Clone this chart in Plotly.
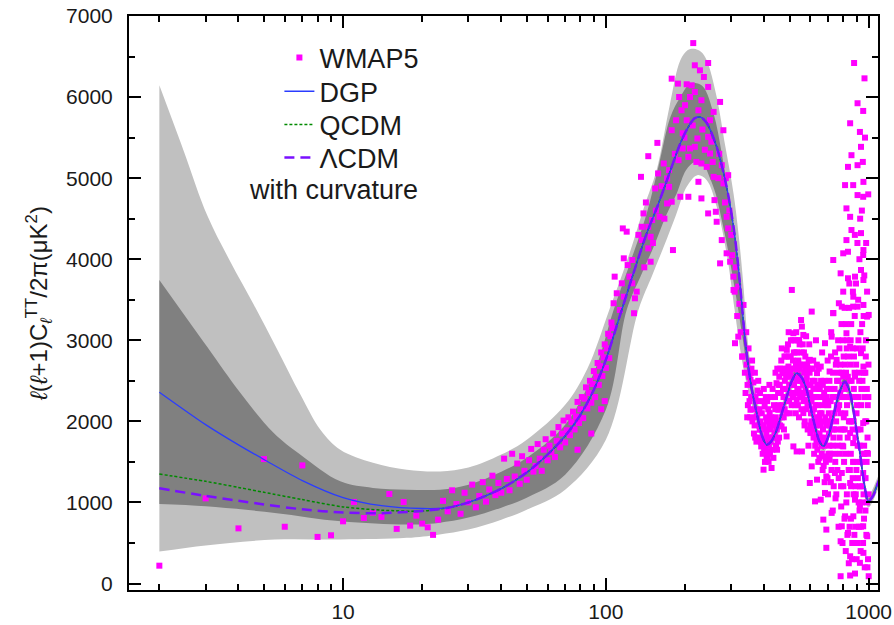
import math
import plotly.graph_objects as go

# ---------------- model curves ----------------
low_ell = [2, 3, 4, 5, 7, 10, 14, 20]
dgp_low = [2360, 1960, 1710, 1530, 1270, 1060, 960, 925]
qcdm_low = [1350, 1260, 1185, 1125, 1035, 945, 905, 893]
lcdm_low = [1175, 1080, 1020, 975, 915, 875, 868, 895]

common_ell = [25, 30, 40, 50, 60, 70, 80, 90, 100, 113, 128, 143, 157, 171, 192, 205, 218, 230,
              242, 264, 288, 306, 318, 328, 340, 358, 375, 392, 409, 425, 447, 467, 488, 510,
              532, 556, 581, 603, 625, 648, 672, 700, 733, 772, 812, 845, 874, 900, 926, 960,
              997, 1040, 1072, 1100]
common_dl = [935, 1000, 1170, 1370, 1590, 1820, 2080, 2390, 2760, 3300, 3850, 4319, 4650, 4980,
             5430, 5620, 5740, 5750, 5680, 5386, 4893, 4400, 3950, 3500, 2950, 2420, 2100, 1830,
             1712, 1750, 1897, 2100, 2307, 2500, 2595, 2540, 2389, 2150, 1937, 1760, 1691, 1800,
             2060, 2350, 2491, 2380, 2143, 1880, 1610, 1250, 1013, 1080, 1198, 1290]

# ---------------- confidence bands ----------------
light_hi_ell = [2, 2.47, 3.05, 3.73, 4.56, 5.58, 6.89, 8.2, 9.76, 13, 17.5, 23.4, 30, 40, 50, 70,
                85, 103, 123, 140, 156, 175, 192, 205, 216, 230, 242, 264, 285, 306, 320, 334,
                344, 358, 375, 409, 447, 488, 532, 581, 625, 672, 733, 812, 874, 926, 997, 1072,
                1100]
light_hi = [6145, 5345, 4532, 3966, 3448, 2906, 2328, 1897, 1650, 1490, 1404, 1383, 1430, 1590,
            1773, 2204, 2650, 3374, 4072, 4650, 5099, 5900, 6453, 6580, 6597, 6560, 6453, 6001,
            5386, 4812, 4300, 3662, 3100, 2620, 2300, 1800, 2000, 2420, 2750, 2480, 2020, 1770,
            2150, 2620, 2230, 1690, 1090, 1280, 1370]

dark_hi_ell = [2, 3.04, 4.07, 5.45, 6.89, 9.76, 13, 17.5, 23.4, 30, 40, 50, 70, 90, 107, 125, 143,
               160, 176, 192, 209, 222, 235, 257, 276, 297, 314, 330, 344, 358, 375, 409, 447,
               488, 532, 581, 625, 672, 733, 812, 874, 926, 997, 1072, 1100]
dark_hi = [3744, 2919, 2349, 1856, 1589, 1260, 1179, 1158, 1158, 1219, 1379, 1552, 1958, 2600,
           3374, 4000, 4565, 5200, 5755, 6000, 6166, 6170, 6125, 5796, 5304, 4647, 4073, 3400,
           2950, 2500, 2210, 1760, 1950, 2360, 2650, 2440, 1990, 1735, 2110, 2550, 2190, 1650,
           1050, 1240, 1330]

dark_lo_ell = [2, 3, 5.5, 9.8, 17.5, 23, 30, 40, 50, 70, 100, 120, 136, 152, 170, 186, 202, 218,
               234, 249, 262, 276, 290, 305, 319, 334, 344, 358, 375, 409, 447, 488, 532, 581,
               625, 672, 733, 812, 874, 926, 997, 1072, 1100]
dark_lo = [980, 952, 871, 767, 727, 747, 813, 936, 1059, 1342, 2143, 3374, 3800, 4154, 4550,
           4812, 5100, 5200, 5170, 5000, 4800, 4483, 4150, 3750, 3374, 2950, 2650, 2330, 2040,
           1665, 1845, 2250, 2540, 2340, 1885, 1650, 2010, 2430, 2100, 1570, 980, 1160, 1250]

light_lo_ell = [2, 3, 5.5, 9.8, 17.5, 23, 30, 40, 50, 70, 100, 133, 150, 166, 185, 203, 223, 242,
                264, 288, 309, 324, 334, 344, 358, 375, 409, 447, 488, 532, 581, 625, 672, 733,
                812, 874, 926, 997, 1072, 1100]
light_lo = [394, 470, 542, 542, 563, 603, 665, 788, 911, 1158, 1773, 3374, 3800, 4154, 4550,
            4893, 5037, 4975, 4647, 4073, 3374, 2900, 2650, 2450, 2220, 1960, 1620, 1800, 2200,
            2480, 2300, 1850, 1610, 1970, 2370, 2060, 1530, 940, 1120, 1210]

# ---------------- WMAP5 data points (ell, D_ell) ----------------
wmap_low = [(2, 220), (3, 1050), (4, 680), (5, 1535), (6, 700), (7, 1457), (8, 575), (9, 595),
            (10, 767), (11, 1006), (12, 809), (13, 874), (14, 821), (15, 1104), (16, 674),
            (17, 1006), (18, 714), (19, 837), (20, 739), (21, 693), (22, 600), (23, 788)]

wmap_rise = [(24, 1020), (25, 890), (26, 1150), (27, 980), (28, 860), (29, 1120), (30, 1000),
             (31, 1220), (32, 940), (33, 1080), (34, 1250), (35, 1010), (36, 1160), (37, 1330),
             (38, 1090), (39, 1240), (40, 1120), (41, 1540), (42, 1290), (43, 1150), (44, 1600),
             (45, 1320), (46, 1480), (47, 1230), (48, 1570), (49, 1390), (50, 1280), (51, 1520),
             (52, 1660), (53, 1380), (54, 1450), (55, 1720), (56, 1540), (57, 1390), (58, 1650),
             (59, 1780), (60, 1520), (61, 1700), (62, 1620), (63, 1850), (64, 1560), (65, 1760),
             (66, 1930), (67, 1680), (68, 1850), (69, 2010), (70, 1740), (71, 1890), (72, 2050),
             (73, 1830), (74, 1990), (75, 2120), (76, 1900), (77, 2060), (78, 2240), (78, 1650),
             (79, 1980), (80, 2150), (81, 2300), (82, 2040), (83, 2280), (84, 2420), (85, 2160),
             (86, 2350), (87, 2500), (88, 2230), (88, 1850), (89, 2460), (90, 2620), (91, 2300),
             (92, 2550), (93, 2720), (94, 2450), (95, 2680), (96, 2850), (96, 2150), (97, 2560),
             (98, 2790), (99, 2950), (99, 2250), (100, 2660), (101, 2900), (102, 3080),
             (103, 2780), (104, 3050), (105, 3220), (106, 3150)]

wmap_peak = [(107, 3457), (108, 3785), (110, 3580), (113, 3374), (115, 3703), (116, 4380),
             (117, 3538), (117, 4011), (120, 4340), (121, 3928), (123, 3785), (126, 3990),
             (126, 3703), (128, 3334), (129, 3518), (131, 3600), (133, 4300), (136, 5016),
             (137, 4400), (137, 4236), (139, 4565), (140, 3900), (142, 4700), (145, 5271),
             (145, 4400), (145, 4134), (148, 4277), (148, 3969), (150, 4483), (151, 4200),
             (154, 4873), (155, 4600), (157, 5435), (158, 5058), (160, 4523), (163, 4900),
             (166, 5181), (167, 4500), (171, 4996), (171, 4688), (174, 5099), (174, 4893),
             (178, 5591), (178, 6227), (178, 4709), (180, 4113), (183, 5300), (185, 5714),
             (188, 6166), (189, 5222), (190, 6001), (192, 4770), (194, 5837), (196, 5554),
             (196, 5366), (199, 5500), (200, 5900), (203, 6158), (203, 5714), (206, 5262),
             (206, 4770), (209, 6001), (209, 5366), (212, 6145), (214, 5650), (215, 6666),
             (218, 6392), (218, 6063), (218, 5386), (221, 5200), (223, 5489), (225, 5837),
             (225, 4955), (228, 6330), (231, 5961), (231, 5181), (231, 4750), (233, 5600),
             (236, 6248), (238, 5350), (242, 5139), (245, 6420), (245, 6125), (245, 5509),
             (245, 4565), (249, 5714), (249, 5304), (252, 5450), (255, 5200), (257, 5817),
             (257, 5016), (259, 4729), (262, 4585), (264, 4462), (268, 5000), (270, 5300),
             (272, 5940), (272, 3949), (276, 5160), (276, 4236), (280, 5591), (280, 4935),
             (284, 4700), (286, 5000), (288, 4523), (288, 4073), (292, 5037), (292, 4380),
             (295, 4600), (297, 3969), (300, 4300), (302, 4050), (306, 3785), (306, 3621),
             (309, 3600), (310, 2964), (312, 3900), (316, 3300), (319, 3662), (319, 3045),
             (322, 3450), (326, 3100), (330, 2799), (331, 2800), (334, 3436)]

wmap_trough = [(338, 2600), (342, 3100), (346, 2450), (349, 2900), (352, 2250), (355, 2512),
               (355, 2143), (358, 2650), (361, 2000), (364, 2480), (365, 2307), (368, 1950),
               (371, 2300), (375, 2060), (378, 2380), (381, 1800), (384, 2150), (385, 1897),
               (388, 2000), (390, 1691), (393, 1780), (396, 2250), (398, 1404), (400, 1650),
               (402, 2183), (404, 1900), (407, 2050), (409, 1568), (412, 1800), (414, 1630),
               (416, 1500), (418, 1950), (420, 2102), (423, 1750), (425, 2300), (427, 1425),
               (430, 1650), (432, 2000), (436, 2200), (439, 1850), (442, 2600), (444, 1700),
               (446, 2471), (450, 2000), (452, 2350), (453, 2143), (456, 1800), (459, 2450),
               (462, 2150), (465, 2750), (466, 1937), (469, 2595), (472, 2400), (475, 2050),
               (478, 2800), (481, 2300), (485, 2550), (487, 1814), (488, 2882), (490, 2250),
               (493, 2950), (495, 2676), (498, 2450)]

wmap_second = [(501, 2100), (505, 2800), (508, 2350), (510, 3621), (512, 2650), (514, 3000),
               (517, 3087), (517, 1691), (520, 2450), (524, 2200), (527, 2850), (530, 3100),
               (532, 1629), (532, 2266), (535, 2400), (537, 2635), (540, 2750), (543, 2050),
               (546, 2950), (550, 2500), (553, 3250), (557, 3169), (557, 1629), (560, 2300),
               (562, 2700), (564, 3066), (564, 2102), (567, 2850), (570, 1950), (572, 2266),
               (575, 2400), (578, 3050), (581, 2553), (585, 2200), (588, 2650), (590, 1700),
               (594, 2950), (597, 2759), (597, 1240), (600, 2350), (600, 1856), (603, 2100),
               (607, 3354), (607, 1445), (610, 2500), (612, 1900), (615, 2750), (620, 1600),
               (622, 2300), (625, 1013), (628, 2000), (630, 3000), (633, 1750), (636, 2595),
               (636, 1281), (640, 2200), (643, 1500), (645, 2650), (650, 1850), (652, 2400),
               (657, 2676), (657, 1034), (660, 1700), (662, 2100), (665, 2850), (668, 1400),
               (672, 1568), (672, 788), (675, 2000), (678, 2500), (680, 1250), (682, 2964),
               (682, 1117), (685, 1800), (688, 2300), (690, 1321), (690, 665), (690, 440),
               (695, 1550), (698, 2750), (700, 1100)]

wmap_tail = [(705, 2100), (708, 1700), (710, 2615), (710, 1527), (715, 2400), (718, 1250),
             (720, 3100), (723, 3045), (723, 871), (728, 1900), (730, 900), (733, 3990),
             (733, 3337), (733, 3334), (738, 2300), (740, 1600), (744, 1363), (745, 2850),
             (748, 1050), (752, 2000), (755, 2759), (758, 2500), (760, 1400), (765, 3000),
             (768, 700), (770, 3457), (772, 2200), (775, 1800), (780, 2700), (782, 3826),
             (782, 521), (782, 90), (785, 1200), (788, 3200), (790, 3415), (790, 1363),
             (790, 706), (792, 2300), (795, 500), (798, 1900), (800, 4073), (800, 3600),
             (800, 2553), (800, 1691), (803, 2800), (806, 1500), (810, 3400), (813, 4914),
             (813, 829), (815, 2100), (818, 400), (820, 2600), (823, 4627), (823, 4236),
             (823, 3087), (826, 1100), (828, 3000), (832, 1800), (834, 5139), (834, 4092),
             (834, 3765), (834, 624), (838, 2300), (840, 250), (844, 3700), (848, 1400),
             (850, 5677), (850, 4523), (850, 2922), (850, 1856), (850, 1240), (850, 336),
             (850, 99), (852, 2700), (856, 800), (858, 3200), (860, 5283), (860, 4360),
             (862, 2000), (866, 500), (870, 2900), (872, 1500), (873, 4914), (873, 3415),
             (873, 1732), (874, 3538), (874, 829), (878, 2400), (880, 6420), (882, 600),
             (885, 3300), (887, 3785), (887, 2553), (887, 1034), (887, 123), (890, 1800),
             (893, 1100), (896, 2700), (900, 300), (903, 2200), (906, 4200), (907, 5924),
             (907, 5160), (907, 4791), (907, 3415), (910, 1300), (914, 3000), (918, 700),
             (920, 2500), (924, 1700), (926, 5570), (926, 952), (926, 255), (926, 1198),
             (928, 4500), (932, 400), (935, 5386), (935, 4322), (935, 3867), (935, 2841),
             (936, 2200), (940, 1000), (944, 3200), (948, 1600), (950, 5200), (953, 5829),
             (953, 4770), (953, 4052), (953, 1979), (953, 1363), (953, 706), (955, 4954),
             (955, 4113), (955, 3744), (955, 3436), (955, 2676), (955, 378), (958, 2600),
             (960, 800), (962, 3800), (964, 6231), (966, 200), (970, 2000), (973, 1300),
             (976, 3000), (980, 600), (984, 2400), (987, 3292), (987, 1610), (987, 583),
             (990, 1800), (994, 300), (998, 2700), (1000, 3313), (1000, 90)]

wmap_cloud = [(340, 2350), (343, 2700), (347, 2200), (351, 2550), (354, 2050), (357, 2300),
              (360, 2750), (363, 2150), (366, 1850), (369, 2600), (372, 2050), (374, 1750),
              (377, 2250), (380, 2500), (383, 1950), (386, 2350), (389, 1750), (392, 2100),
              (395, 1600), (397, 1950), (399, 2400), (401, 1750), (403, 1500), (406, 2300),
              (408, 1850), (410, 2000), (413, 1550), (415, 2150), (417, 1700), (419, 2450),
              (421, 1600), (424, 1900), (426, 2050), (429, 1800), (431, 2400), (434, 1550),
              (437, 1950), (440, 2300), (443, 2050), (447, 1900), (449, 2650), (451, 1750),
              (454, 2200), (457, 2550), (460, 1950), (463, 2350), (467, 2900), (470, 2200),
              (473, 2650), (476, 1900), (480, 2500), (483, 2800), (486, 2100), (489, 2600),
              (492, 2400), (496, 3100), (499, 2250), (503, 2600), (506, 3000), (509, 2200),
              (511, 2450), (515, 2750), (518, 2300), (522, 2650), (525, 3000), (528, 2100),
              (531, 2500), (534, 2850), (538, 2200), (541, 2550), (544, 3000), (548, 2300),
              (551, 2700), (555, 2150), (558, 2500), (561, 2950), (565, 2250), (568, 2600),
              (571, 2000), (574, 2800), (577, 2350), (580, 2150), (583, 2700), (586, 1900),
              (589, 2450), (592, 2200), (596, 2600), (599, 1950), (602, 2450), (605, 2000),
              (609, 2300), (613, 2650), (617, 1800), (619, 2150), (623, 2500), (626, 1700),
              (629, 2300), (632, 1950), (635, 2700), (638, 1650), (642, 2000), (646, 2400),
              (649, 1550), (653, 2100), (656, 1800), (659, 2500), (663, 1600), (667, 2200),
              (670, 1900), (674, 1450), (677, 2350), (681, 1750), (684, 2050), (687, 1500),
              (692, 2400), (694, 1950), (697, 1300), (702, 2200), (706, 1850), (709, 2500),
              (713, 1600), (716, 2000), (719, 2800), (722, 1400), (726, 2300), (729, 1700),
              (732, 2600), (736, 1200), (739, 1900), (742, 2400), (746, 1500), (750, 2700),
              (753, 1100), (757, 2200), (762, 1700), (766, 2500), (769, 1300), (774, 2900),
              (777, 1600), (781, 2100), (786, 950), (789, 2600), (794, 1700), (797, 3000),
              (801, 1200), (805, 2300), (809, 800), (812, 2700), (816, 1600), (819, 3200),
              (822, 1000), (827, 2200), (830, 600), (836, 2800), (839, 1400), (842, 3400),
              (846, 700), (849, 2000), (854, 3000), (857, 1200), (861, 2500), (864, 300),
              (868, 1900), (871, 3600), (876, 1100), (879, 2800), (883, 1500), (886, 4300),
              (889, 700), (892, 2300), (895, 3700), (898, 1400), (902, 2900), (905, 500),
              (909, 1900), (912, 3500), (916, 1000), (919, 2600), (922, 4000), (925, 1500),
              (930, 3100), (934, 700), (938, 2400), (942, 4600), (946, 1200), (949, 2900),
              (952, 500), (957, 3300), (961, 1700), (965, 2300), (968, 5500), (972, 900),
              (975, 2800), (978, 4200), (982, 1500), (986, 3600), (989, 200), (992, 2200),
              (996, 4800), (999, 1100)]

wmap_fill = [(345, 2050), (356, 2600), (370, 1800), (379, 2100), (391, 1950), (405, 1700),
             (411, 2250), (422, 2000), (433, 1800), (441, 2150), (448, 1650), (455, 2450),
             (461, 2650), (468, 2050), (474, 2300), (479, 2150), (484, 2400), (491, 2650),
             (497, 2800), (502, 2350), (507, 2550), (513, 2300), (519, 2850), (523, 2550),
             (529, 2700), (533, 2350), (539, 3000), (542, 2400), (547, 2650), (552, 2350),
             (556, 2850), (563, 2450), (569, 2350), (573, 2650), (579, 2500), (584, 2350),
             (591, 2750), (595, 2250), (601, 2650), (606, 2250), (611, 2100), (616, 2400),
             (621, 2050), (627, 2200), (631, 1850), (637, 2450), (641, 1800), (648, 2050),
             (654, 2300), (658, 1950), (664, 1750), (669, 2450), (676, 1700), (683, 2250),
             (689, 2000), (696, 2200), (703, 1600), (711, 1950), (717, 2250), (725, 2050),
             (734, 1800), (741, 2100), (749, 2300), (756, 1900), (764, 2150), (771, 2600),
             (779, 2350), (787, 1900), (796, 2450), (804, 2050), (811, 1900), (817, 2400),
             (825, 2900), (833, 2550), (841, 2000), (847, 2500), (855, 1600), (863, 2300),
             (869, 1300), (877, 2000), (884, 2600), (891, 1200), (899, 2100), (908, 1700),
             (915, 2300), (923, 900), (931, 1900), (939, 1500), (947, 2500), (956, 1100),
             (963, 1600), (971, 2600), (979, 2000), (985, 1000), (993, 1600), (997, 2300)]

# ---------------- assemble ----------------
wmap_all = (wmap_low + wmap_rise + wmap_peak + wmap_trough + wmap_second + wmap_tail
            + wmap_cloud + wmap_fill)
wmap_ell = [p[0] for p in wmap_all]
wmap_dl = [p[1] for p in wmap_all]

model_ell = low_ell + common_ell
dgp = dgp_low + common_dl
qcdm = qcdm_low + common_dl
lcdm = lcdm_low + common_dl

LIGHT = "#c0c0c0"
DARK = "#808080"
FONT = "Liberation Sans, Arial, Helvetica, sans-serif"
TXT = "#1a1a1a"

# plot-area geometry (px) used to place legend/annotation in paper coords
L, R, T, B = 128.5, 878.0, 16.0, 590.0
def px_x(x):
    return (x - L) / (R - L)
def px_y(y):
    return (B - y) / (B - T)

fig = go.Figure()

band_line = dict(width=0, shape="spline", smoothing=1.0)
fig.add_trace(go.Scatter(x=light_lo_ell, y=light_lo, mode="lines", line=band_line,
                         showlegend=False, hoverinfo="skip"))
fig.add_trace(go.Scatter(x=light_hi_ell, y=light_hi, mode="lines", line=band_line,
                         fill="tonexty", fillcolor=LIGHT, showlegend=False, hoverinfo="skip"))
fig.add_trace(go.Scatter(x=dark_lo_ell, y=dark_lo, mode="lines", line=band_line,
                         showlegend=False, hoverinfo="skip"))
fig.add_trace(go.Scatter(x=dark_hi_ell, y=dark_hi, mode="lines", line=band_line,
                         fill="tonexty", fillcolor=DARK, showlegend=False, hoverinfo="skip"))

fig.add_trace(go.Scatter(x=wmap_ell, y=wmap_dl, mode="markers", name="WMAP5", legend="legend",
                         marker=dict(symbol="square", size=6, color="#ff00ff", line=dict(width=0))))

fig.add_trace(go.Scatter(x=model_ell, y=qcdm, mode="lines", name="QCDM", legend="legend3",
                         line=dict(color="#008a00", width=1.5, dash="3px,2px", shape="spline", smoothing=0.8)))
fig.add_trace(go.Scatter(x=model_ell, y=dgp, mode="lines", name="DGP", legend="legend2",
                         line=dict(color="#2a3cff", width=1.3, shape="spline", smoothing=0.8)))
fig.add_trace(go.Scatter(x=model_ell, y=lcdm, mode="lines", name="\u039bCDM", legend="legend4",
                         line=dict(color="#7a10ff", width=2.5, dash="10px,6px", shape="spline", smoothing=0.8)))

axis_common = dict(showline=True, linecolor="black", linewidth=2, mirror="ticks", ticks="inside",
                   tickcolor="black", tickwidth=1.5, ticklen=12, showgrid=False, zeroline=False,
                   automargin=False, tickfont=dict(family=FONT, size=21, color=TXT))

fig.update_xaxes(type="log", range=[math.log10(1.533), math.log10(1085)],
                 tickvals=[10, 100, 1000], ticktext=["10", "100", "1000"],
                 minor=dict(tickvals=[2, 3, 4, 5, 6, 7, 8, 9, 20, 30, 40, 50, 60, 70, 80, 90,
                                      200, 300, 400, 500, 600, 700, 800, 900],
                            ticks="inside", ticklen=6, tickwidth=1.5, tickcolor="black"),
                 ticklabelstandoff=2, **axis_common)
fig.update_yaxes(range=[-80, 7000], tick0=0, dtick=1000,
                 minor=dict(dtick=500, tick0=0, ticks="inside", ticklen=6, tickwidth=1.5, tickcolor="black"),
                 ticklabelstandoff=10,
                 title=dict(text="<i>\u2113</i>(<i>\u2113</i>+1)C<sub><i>\u2113</i></sub><sup>TT</sup>/2\u03c0(\u03bcK<sup>2</sup>)",
                            font=dict(family=FONT, size=24, color=TXT), standoff=12),
                 **axis_common)

fig.add_annotation(text="with curvature", xref="paper", yref="paper",
                   x=px_x(247), y=px_y(190), xanchor="left", yanchor="middle",
                   showarrow=False, font=dict(family=FONT, size=27, color=TXT))

leg = dict(xanchor="left", yanchor="middle", bgcolor="rgba(0,0,0,0)", borderwidth=0,
           font=dict(family=FONT, size=27, color=TXT), itemwidth=30)
lx = px_x(279)
fig.update_layout(width=894, height=625, margin=dict(l=L, r=894 - R, t=T, b=625 - B),
                  paper_bgcolor="white", plot_bgcolor="white", showlegend=True,
                  legend=dict(x=lx, y=px_y(58), **leg),
                  legend2=dict(x=lx, y=px_y(91.7), **leg),
                  legend3=dict(x=lx, y=px_y(125), **leg),
                  legend4=dict(x=lx, y=px_y(158), **leg))

fig.write_html("out.html", config={"displayModeBar": False},
               post_script="document.body.style.margin='0';document.body.style.overflow='hidden';")
